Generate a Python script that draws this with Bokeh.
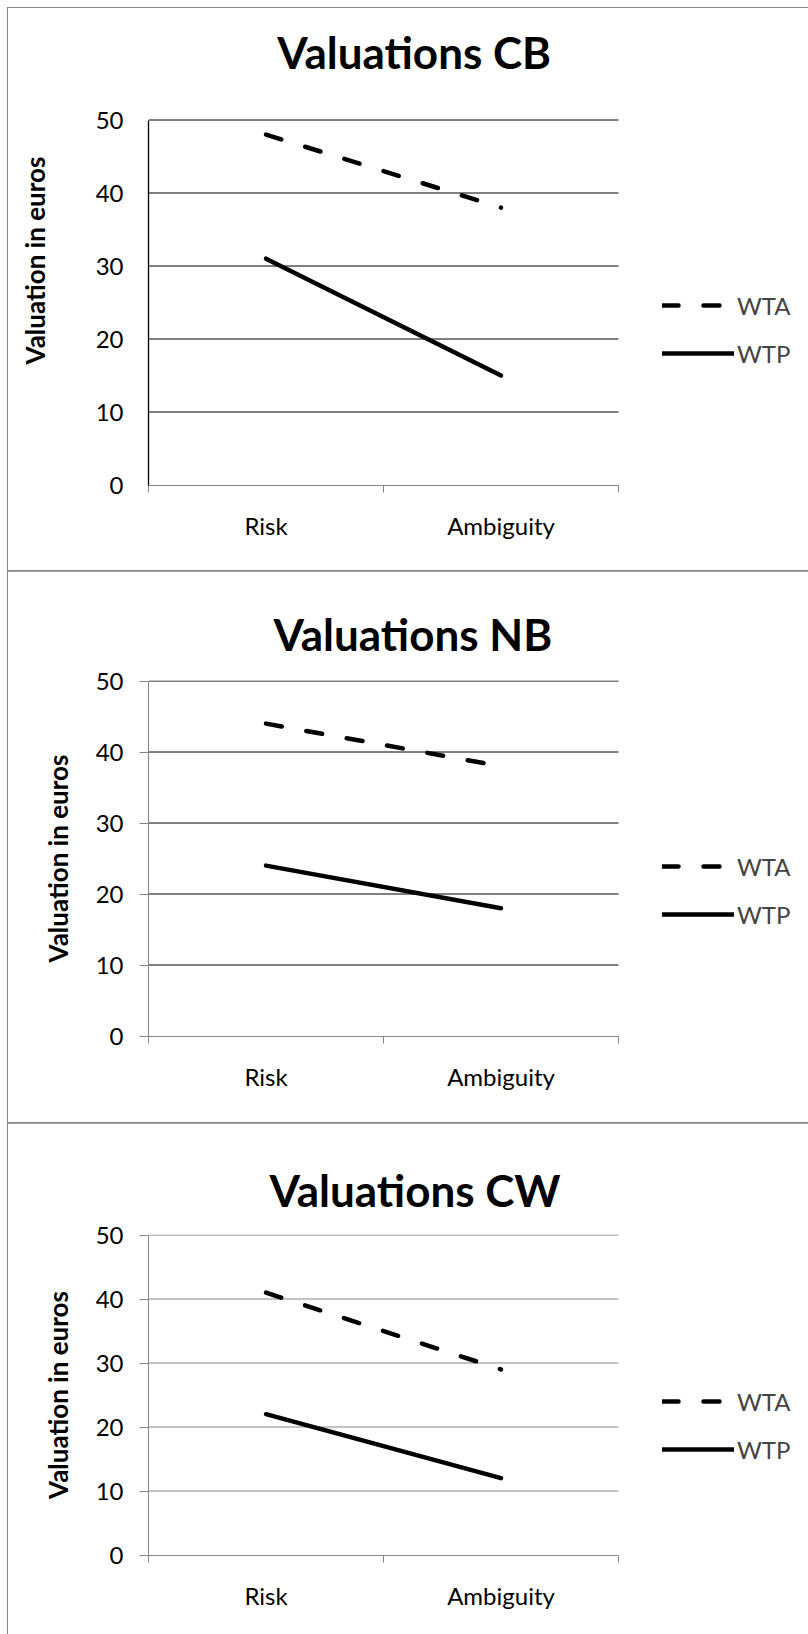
from bokeh.plotting import figure
from bokeh.models import FixedTicker, Legend, LegendItem, Label, Range1d
from bokeh.layouts import column
from bokeh.embed import file_html
from bokeh.resources import INLINE

# ---------------- data ----------------
categories = ["Risk", "Ambiguity"]
series_names = ["WTA", "WTP"]
panel_titles = ["Valuations  CB", "Valuations NB", "Valuations CW"]
y_title = "Valuation in euros"
y_ticks = [0, 10, 20, 30, 40, 50]

wta_cb = [48, 38]
wtp_cb = [31, 15]
wta_nb = [44, 38]
wtp_nb = [24, 18]
wta_cw = [41, 29]
wtp_cw = [22, 12]

# ---------------- style ----------------
FONT = "Lato"
BLACK = "#000000"
GRAY = "#868686"
FIG_W = 800
LEFT = 140          # left border (axis area)
PLOT_W = 470        # width of the category area inside the frame

# plot_h: pixels for the 0..50 span; frame_h may extend above it (room for the title)
panel_styles = [
    dict(height=563, top=27, frame_h=450, plot_h=365, yaxis_color=BLACK, ytick_out=0,
         grid=BLACK, title_label=(271, 434), title_offset=None, title_standoff=None,
         ytitle_standoff=42, legend_vy=117),
    dict(height=552, top=109, frame_h=356, plot_h=355, yaxis_color=GRAY, ytick_out=9,
         grid=BLACK, title_label=None, title_offset=125, title_standoff=38,
         ytitle_standoff=19, legend_vy=107),
    dict(height=511, top=111, frame_h=321, plot_h=320, yaxis_color=GRAY, ytick_out=9,
         grid=GRAY, title_label=None, title_offset=121, title_standoff=34,
         ytitle_standoff=19, legend_vy=91),
]


def make_panel(title, wta, wtp, st):
    n = len(categories)
    xs = [i + 0.5 for i in range(n)]
    frame_w = FIG_W - LEFT
    x_end = n * frame_w / PLOT_W
    ppu = st["plot_h"] / (y_ticks[-1] - y_ticks[0])   # pixels per unit
    shift = 0.5 / ppu                                   # half-pixel alignment for crisp lines
    y_start = y_ticks[0] - shift
    y_end = y_ticks[-1] + (st["frame_h"] - st["plot_h"]) / ppu - shift
    p = figure(width=FIG_W, height=st["height"],
               x_range=Range1d(0, x_end), y_range=Range1d(y_start, y_end),
               output_backend="svg", toolbar_location=None,
               min_border_left=LEFT, min_border_right=0,
               min_border_top=st["top"],
               min_border_bottom=st["height"] - st["top"] - st["frame_h"])
    p.outline_line_color = None
    p.background_fill_color = "white"
    p.border_fill_color = "white"
    p.styles = {"outline": "1px solid " + GRAY}

    # title
    if st["title_label"] is not None:
        tx, ty = st["title_label"]
        p.add_layout(Label(x=tx, y=ty, x_units="screen", y_units="screen", text=title,
                           text_align="center", text_baseline="alphabetic",
                           text_font=FONT, text_font_style="bold",
                           text_font_size="44px", text_color=BLACK))
    else:
        p.title.text = title
        p.title.align = "left"
        p.title.vertical_align = "top"
        p.title.offset = st["title_offset"]
        p.title.standoff = st["title_standoff"]
        p.title.text_font = FONT
        p.title.text_font_style = "bold"
        p.title.text_font_size = "44px"
        p.title.text_color = BLACK

    # x axis
    xa = p.xaxis[0]
    xa.bounds = (0, n)
    xa.ticker = FixedTicker(ticks=xs, minor_ticks=list(range(n + 1)))
    xa.major_label_overrides = {x: c for x, c in zip(xs, categories)}
    xa.axis_line_color = GRAY
    xa.axis_line_width = 1
    xa.major_tick_out = 0
    xa.major_tick_in = 0
    xa.minor_tick_out = 7
    xa.minor_tick_in = 0
    xa.minor_tick_line_color = GRAY
    xa.major_label_text_font = FONT
    xa.major_label_text_font_size = "24px"
    xa.major_label_text_color = BLACK
    xa.major_label_standoff = 18

    # y axis
    ya = p.yaxis[0]
    ya.bounds = (y_ticks[0], y_ticks[-1])
    ya.ticker = FixedTicker(ticks=y_ticks)
    ya.axis_line_color = st["yaxis_color"]
    ya.axis_line_width = 1.3 if st["yaxis_color"] == BLACK else 1
    ya.major_tick_out = st["ytick_out"]
    ya.major_tick_in = 0
    ya.major_tick_line_color = GRAY
    ya.minor_tick_line_color = None
    ya.major_label_text_font = FONT
    ya.major_label_text_font_size = "24px"
    ya.major_label_text_color = BLACK
    ya.major_label_standoff = 25 - st["ytick_out"]
    ya.axis_label = y_title
    ya.axis_label_text_font = FONT
    ya.axis_label_text_font_style = "bold"
    ya.axis_label_text_font_size = "26px"
    ya.axis_label_text_color = BLACK
    ya.axis_label_standoff = st["ytitle_standoff"]

    # horizontal gridlines limited to the category area (the x axis covers 0)
    gl = y_ticks[1:]
    p.xgrid.visible = False
    p.ygrid.visible = False
    p.segment(x0=[0] * len(gl), y0=gl, x1=[n] * len(gl), y1=gl,
              line_color=st["grid"], line_width=1, level="underlay")

    r1 = p.line(xs, wta, line_color=BLACK, line_width=4.5, line_dash="16 25", line_cap="round")
    r2 = p.line(xs, wtp, line_color=BLACK, line_width=4.5, line_cap="round")

    legend = Legend(items=[LegendItem(label=series_names[0], renderers=[r1]),
                           LegendItem(label=series_names[1], renderers=[r2])],
                    location=(PLOT_W + 44, st["legend_vy"]), orientation="vertical",
                    glyph_width=72, glyph_height=30, label_height=30, spacing=18,
                    padding=0, margin=0, border_line_color=None, background_fill_alpha=0,
                    label_standoff=3, label_text_font=FONT, label_text_font_size="24px")
    p.add_layout(legend)
    return p


panels = [
    make_panel(panel_titles[0], wta_cb, wtp_cb, panel_styles[0]),
    make_panel(panel_titles[1], wta_nb, wtp_nb, panel_styles[1]),
    make_panel(panel_titles[2], wta_cw, wtp_cw, panel_styles[2]),
]

layout = column(*panels, spacing=0, margin=(8, 0, 0, 8))
open("out.html", "w").write(file_html(layout, INLINE))
